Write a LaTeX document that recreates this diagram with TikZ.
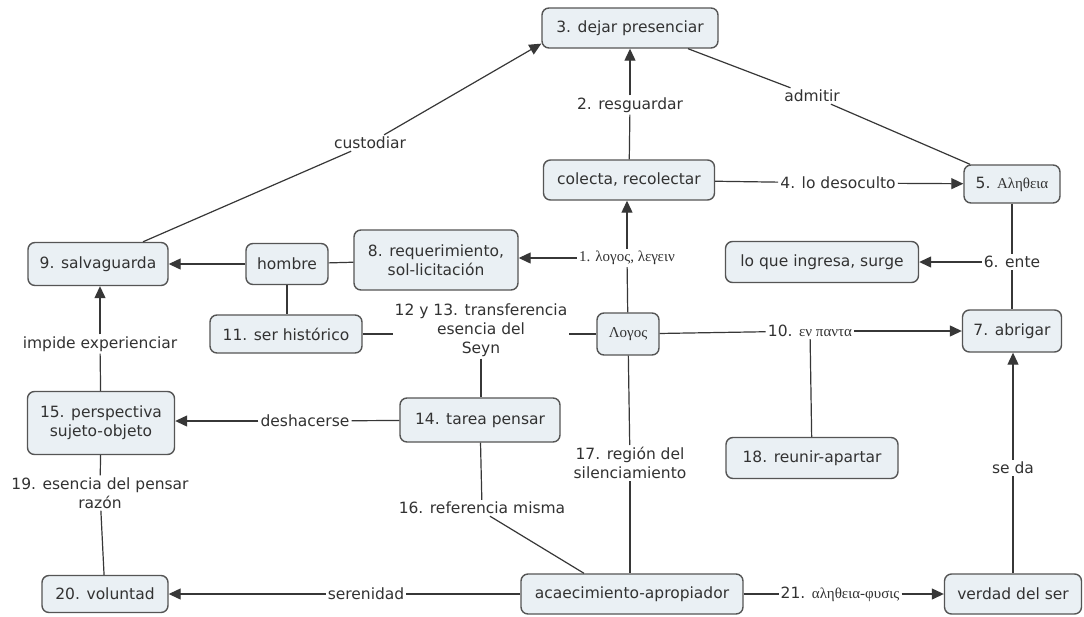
\documentclass[tikz,border=0pt]{standalone}
\usepackage{fontspec}
\setmainfont{DejaVu Sans}
\newfontfamily\grk{Liberation Serif}
\usetikzlibrary{arrows.meta,calc}
\definecolor{boxfill}{RGB}{234,240,244}
\definecolor{boxline}{RGB}{85,85,85}
\definecolor{linec}{RGB}{55,55,55}
\definecolor{txt}{RGB}{50,50,50}
\begin{document}
\begin{tikzpicture}[x=1pt,y=-1pt,
  cbox/.style={draw=boxline, fill=boxfill, rounded corners=7pt, line width=1.4pt, text=txt,
    font=\fontsize{15.5}{19}\selectfont, align=center, inner sep=0pt},
  lbl/.style={fill=white, text=txt, font=\fontsize{15.5}{19}\selectfont, align=center, inner sep=2pt},
  con/.style={draw=linec, line width=1.2pt},
  arr/.style={con, -{Triangle[length=12pt,width=11pt]}}
]
\useasboundingbox[fill=white] (0,0) rectangle (1084,616);
\newcommand\gr[1]{{\grk\fontsize{15}{18}\selectfont #1}}

% concepts
\node[cbox, minimum width=176pt, minimum height=40pt] (n3) at (630,28) {3. dejar presenciar};
\node[cbox, minimum width=171pt, minimum height=40pt] (col) at (629,180) {colecta, recolectar};
\node[cbox, minimum width=96pt, minimum height=38pt] (n5) at (1012,184) {5. \gr{Αληθεια}};
\node[cbox, minimum width=164pt, minimum height=60pt] (n8) at (436,260) {8. requerimiento,\\sol-licitación};
\node[cbox, minimum width=82pt, minimum height=41pt] (hom) at (287,264) {hombre};
\node[cbox, minimum width=140pt, minimum height=43pt] (n9) at (98,264) {9. salvaguarda};
\node[cbox, minimum width=193pt, minimum height=41pt] (ing) at (822,262) {lo que ingresa, surge};
\node[cbox, minimum width=152pt, minimum height=38pt] (n11) at (286,334) {11. ser histórico};
\node[cbox, minimum width=62pt, minimum height=42pt] (logos) at (628,334) {\gr{Λογος}};
\node[cbox, minimum width=99pt, minimum height=42pt] (n7) at (1012,331) {7. abrigar};
\node[cbox, minimum width=147pt, minimum height=63pt] (n15) at (101,423) {15. perspectiva\\sujeto-objeto};
\node[cbox, minimum width=160pt, minimum height=44pt] (n14) at (480,420) {14. tarea pensar};
\node[cbox, minimum width=172pt, minimum height=41pt] (n18) at (812,458) {18. reunir-apartar};
\node[cbox, minimum width=126pt, minimum height=37pt] (n20) at (105,594) {20. voluntad};
\node[cbox, minimum width=222pt, minimum height=40pt] (acae) at (632,594) {acaecimiento-apropiador};
\node[cbox, minimum width=137pt, minimum height=40pt] (ver) at (1013,594) {verdad del ser};

% linking phrases
\node[lbl] (l2) at (630,105) {2. resguardar};
\node[lbl] (lcust) at (370,143) {custodiar};
\node[lbl] (ladm) at (812,96) {admitir};
\node[lbl] (l4) at (838,183) {4. lo desoculto};
\node[lbl] (l1) at (627,258) {\gr{1. λογος, λεγειν}};
\node[lbl] (l6) at (1012,262) {6. ente};
\node[lbl] (l12) at (481,330) {12 y 13. transferencia\\esencia del\\Seyn};
\node[lbl] (l10) at (810,331) {10. \gr{εν παντα}};
\node[lbl] (limp) at (100,344) {impide experienciar};
\node[lbl] (ldes) at (305,421) {deshacerse};
\node[lbl] (l17) at (630,463) {17. región del\\silenciamiento};
\node[lbl] (lse) at (1013,468) {se da};
\node[lbl] (l19) at (100,493) {19. esencia del pensar\\razón};
\node[lbl] (l16) at (482,508) {16. referencia misma};
\node[lbl] (lser) at (366,594) {serenidad};
\node[lbl] (l21) at (840,594) {21. \gr{αληθεια-φυσις}};

% connectors
\draw[con] (col) -- (l2);
\draw[arr] (l2) -- (l2 |- n3.south);
\draw[con] ([xshift=45pt]n9.north) -- (lcust);
\draw[arr] (lcust) -- (n3.190);
\draw[con] ([xshift=58pt]n3.south) -- (ladm);
\draw[con] (ladm) -- ([xshift=-42pt]n5.north);
\draw[con] (col) -- (l4);
\draw[arr] (l4) -- (n5);
\draw[con] (logos) -- (l1);
\draw[arr] (l1) -- (l1 |- col.south);
\draw[arr] (l1) -- (l1 -| n8.east);
\draw[con] (n8) -- (hom);
\draw[arr] (hom) -- (n9);
\draw[con] (hom) -- (hom |- n11.north);
\draw[con] (n11.east) -- (n11.east -| l12.west);
\draw[con] (l12.east |- logos.west) -- (logos.west);
\draw[con] (l12.south) -- (l12.south |- n14.north);
\draw[con] (n5) -- (l6);
\draw[con] (l6) -- (n7);
\draw[arr] (l6) -- (l6 -| ing.east);
\draw[con] (logos) -- (l10);
\draw[arr] (l10) -- (l10 -| n7.west);
\draw[con] (l10) -- (n18);
\draw[con] (n15) -- (limp);
\draw[arr] (limp) -- (limp |- n9.south);
\draw[con] (n14) -- (ldes);
\draw[arr] (ldes) -- (ldes -| n15.east);
\draw[con] (n15) -- (l19);
\draw[con] (l19) -- (n20);
\draw[con] (n14) -- (l16);
\draw[con] ([xshift=8pt]l16.south) -- ([xshift=-48pt]acae.north);
\draw[con] (logos) -- (l17);
\draw[con] (l17) -- (l17 |- acae.north);
\draw[con] (acae) -- (lser);
\draw[arr] (lser) -- (lser -| n20.east);
\draw[con] (acae) -- (l21);
\draw[arr] (l21) -- (l21 -| ver.west);
\draw[con] (ver) -- (lse);
\draw[arr] (lse) -- (lse |- n7.south);
\end{tikzpicture}
\end{document}
